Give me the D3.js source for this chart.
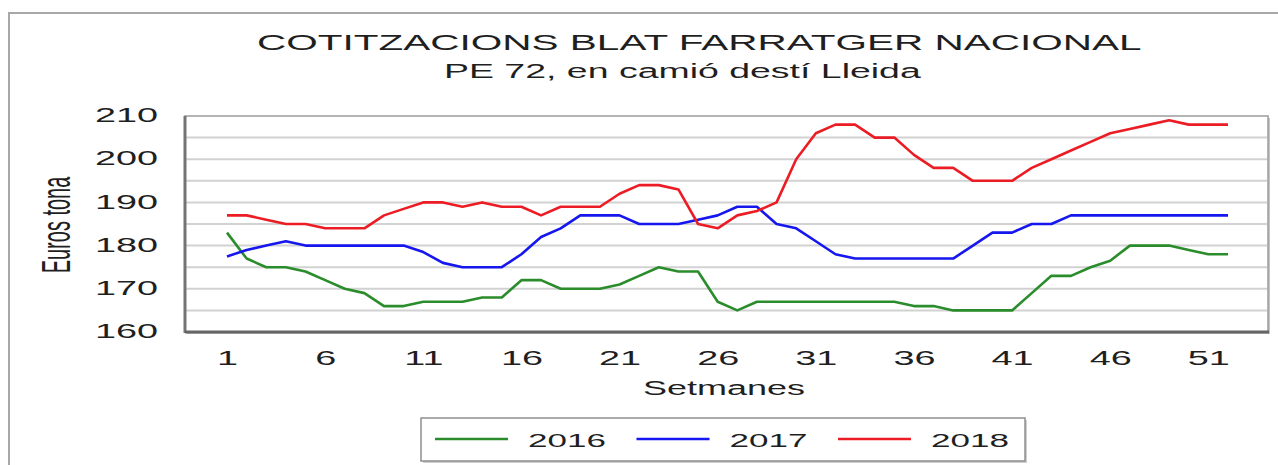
<!DOCTYPE html>
<html lang="ca">
<head>
<meta charset="UTF-8">
<title>Cotitzacions blat farratger nacional</title>
<style>
  body { margin: 0; background: #fff; }
  text { font-family: "Liberation Sans", Arial, sans-serif; fill: #1f1f1f; }
</style>
</head>
<body>
<div id="chart"></div>
<script src="https://d3js.org/d3.v7.min.js"></script>
<script>

// weeks 1..52, prices in euros/tona
var setmanes = [1,2,3,4,5,6,7,8,9,10,11,12,13,14,15,16,17,18,19,20,21,22,23,24,25,26,
                27,28,29,30,31,32,33,34,35,36,37,38,39,40,41,42,43,44,45,46,47,48,49,50,51,52];

var serie2016 = [183,177,175,175,174,172,170,169,166,166,167,167,167,168,168,172,172,170,170,170,171,173,175,174,174,167,
                 165,167,167,167,167,167,167,167,167,166,166,165,165,165,165,169,173,173,175,176.5,180,180,180,179,178,178];

var serie2017 = [177.5,179,180,181,180,180,180,180,180,180,178.5,176,175,175,175,178,182,184,187,187,187,185,185,185,186,187,
                 189,189,185,184,181,178,177,177,177,177,177,177,180,183,183,185,185,187,187,187,187,187,187,187,187,187];

var serie2018 = [187,187,186,185,185,184,184,184,187,188.5,190,190,189,190,189,189,187,189,189,189,192,194,194,193,185,184,
                 187,188,190,200,206,208,208,205,205,201,198,198,195,195,195,198,200,202,204,206,207,208,209,208,208,208];

var anys = ["2016", "2017", "2018"];
var colors = ["#2a8c2a", "#1616ee", "#ec1c24"];

var xTicks = [1, 6, 11, 16, 21, 26, 31, 36, 41, 46, 51];
var yTicks = [160, 170, 180, 190, 200, 210];
var gridValues = [165, 170, 175, 180, 185, 190, 195, 200, 205];

var W = 1278, H = 465;
var plot = { left: 185, right: 1268, top: 116, bottom: 332 };
var sx = 1.8; // the original chart is stretched horizontally

var svg = d3.select("#chart").append("svg")
    .attr("width", W)
    .attr("height", H);

// outer frame
svg.append("rect")
    .attr("x", 9).attr("y", 13)
    .attr("width", W + 20).attr("height", H + 20)
    .attr("fill", "none")
    .attr("stroke", "#a8a8a8")
    .attr("stroke-width", 2);

// stretch a text to fit between x0 and x1
function fitText(parent, str, x0, x1, baseline, size) {
    var t = parent.append("text").attr("font-size", size).text(str);
    var w = t.node().getComputedTextLength();
    t.attr("transform", "translate(" + x0 + "," + baseline + ") scale(" + ((x1 - x0) / w) + ",1)");
    return t;
}

fitText(svg, "COTITZACIONS BLAT FARRATGER NACIONAL", 257, 1142, 49.5, 22);
fitText(svg, "PE 72, en camió destí Lleida", 444, 921, 78, 21);

var x = d3.scaleLinear().domain([1, 52]).range([227, 1228]);
var y = d3.scaleLinear().domain([160, 210]).range([plot.bottom, plot.top]);

// plot area with shadow
svg.append("rect")
    .attr("x", plot.left + 2).attr("y", plot.top + 2)
    .attr("width", plot.right - plot.left).attr("height", plot.bottom - plot.top)
    .attr("fill", "#c4c4c4");
svg.append("rect")
    .attr("x", plot.left).attr("y", plot.top)
    .attr("width", plot.right - plot.left).attr("height", plot.bottom - plot.top)
    .attr("fill", "#fff")
    .attr("stroke", "#9c9c9c")
    .attr("stroke-width", 1.5);

// gridlines
svg.append("g").selectAll("line")
    .data(gridValues)
    .enter().append("line")
    .attr("x1", plot.left + 1).attr("x2", plot.right - 1)
    .attr("y1", function (d) { return y(d); })
    .attr("y2", function (d) { return y(d); })
    .attr("stroke", "#d2d2d2")
    .attr("stroke-width", 2);

// darker left and bottom edges
svg.append("line")
    .attr("x1", plot.left).attr("x2", plot.left)
    .attr("y1", plot.top).attr("y2", plot.bottom + 1)
    .attr("stroke", "#747474").attr("stroke-width", 3);
svg.append("line")
    .attr("x1", plot.left).attr("x2", plot.right + 1)
    .attr("y1", plot.bottom).attr("y2", plot.bottom)
    .attr("stroke", "#666").attr("stroke-width", 3);

// axes
var yAxis = svg.append("g")
    .attr("transform", "translate(" + plot.left + ",0)")
    .call(d3.axisLeft(y).tickValues(yTicks).tickSize(0).tickPadding(27 / sx));
yAxis.select(".domain").remove();
yAxis.attr("font-family", null).attr("font-size", null);
yAxis.selectAll("text")
    .attr("font-size", 21)
    .attr("dy", "0.27em")
    .attr("transform", "scale(" + sx + ",1)")
    .style("fill", "#1f1f1f");

var xAxis = svg.append("g")
    .attr("transform", "translate(0," + plot.bottom + ")")
    .call(d3.axisBottom(x).tickValues(xTicks).tickSize(0).tickPadding(18));
xAxis.select(".domain").remove();
xAxis.attr("font-family", null).attr("font-size", null);
xAxis.selectAll("text")
    .attr("font-size", 21)
    .attr("transform", "scale(" + sx + ",1)")
    .style("fill", "#1f1f1f");

// axis titles
fitText(svg, "Setmanes", 643, 805, 395, 20);
svg.append("text")
    .attr("font-size", 20)
    .attr("text-anchor", "middle")
    .attr("transform", "translate(70,225) scale(2.05,1) rotate(-90)")
    .text("Euros tona");

// series
var line = d3.line()
    .x(function (d, i) { return x(setmanes[i]); })
    .y(function (d) { return y(d); });

[serie2016, serie2017, serie2018].forEach(function (s, i) {
    svg.append("path")
        .datum(s)
        .attr("fill", "none")
        .attr("stroke", colors[i])
        .attr("stroke-width", 2.6)
        .attr("stroke-linejoin", "round")
        .attr("d", line);
});

// legend
svg.append("rect")
    .attr("x", 423).attr("y", 420)
    .attr("width", 604).attr("height", 43)
    .attr("fill", "#cfcfcf");
svg.append("rect")
    .attr("x", 421).attr("y", 418)
    .attr("width", 604).attr("height", 43)
    .attr("fill", "#fff")
    .attr("stroke", "#8e8e8e")
    .attr("stroke-width", 1.5);

anys.forEach(function (a, i) {
    var x0 = 435 + i * 201.5;
    svg.append("line")
        .attr("x1", x0).attr("x2", x0 + 73)
        .attr("y1", 439).attr("y2", 439)
        .attr("stroke", colors[i])
        .attr("stroke-width", 2.6);
    fitText(svg, a, x0 + 93, x0 + 171, 447, 19);
});

</script>
</body>
</html>
